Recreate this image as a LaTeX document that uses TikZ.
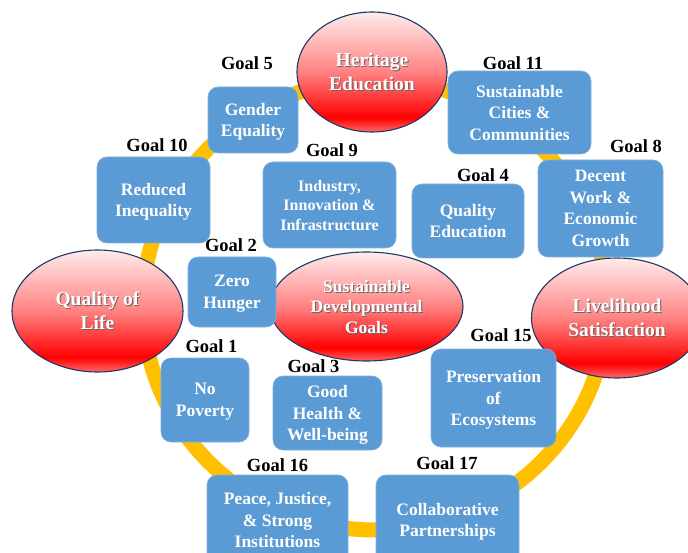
\documentclass[tikz,border=0pt]{standalone}
\usepackage{fontspec}
\setmainfont{Liberation Serif}
\usetikzlibrary{shapes.geometric}
\definecolor{boxblue}{HTML}{5B9BD5}
\definecolor{boxedge}{HTML}{80B1DF}
\definecolor{ringgold}{HTML}{FFC000}
\definecolor{elledge}{HTML}{1F3864}
\definecolor{redT}{RGB}{255,236,236}
\definecolor{redM}{RGB}{255,130,130}
\definecolor{redF}{RGB}{255,0,0}
\definecolor{redB}{RGB}{255,105,105}
\pgfdeclareverticalshading{ellred}{100bp}{color(0bp)=(redB); color(25bp)=(redB); color(31bp)=(redF); color(50bp)=(redM); color(75bp)=(redT); color(100bp)=(redT)}
\begin{document}
\begin{tikzpicture}[x=1pt,y=-1pt,
  goalbox/.style={draw=boxedge, line width=0.6pt, fill=boxblue, rounded corners=10pt,
    text=white, align=center, inner sep=0pt, text depth=0pt,
    font=\bfseries\fontsize{17.5}{21.5}\selectfont},
  goallabel/.style={inner sep=0pt, text=black, font=\bfseries\fontsize{18.5}{22}\selectfont},
  ellfont/.style={font=\bfseries\fontsize{19.5}{24}\selectfont},
  sdgfont/.style={font=\bfseries\fontsize{17.5}{20.5}\selectfont},
  theme/.style n args={2}{ellipse, draw=elledge, line width=1.1pt, shade, shading=ellred,
    inner sep=0pt, text=white, align=center, text depth=0pt, #1,
    path picture={\node[#1, text=black!60, align=center, inner sep=0pt, text depth=0pt]
      at ([shift={(1pt,-1pt)}]path picture bounding box.center) {#2};}}
]
\useasboundingbox (0,0) rectangle (688,553);
\fill[white] (0,0) rectangle (688,553);

% ring
\draw[ringgold, line width=15pt] (375,305) ellipse (232pt and 225pt);

% theme ellipses
\node[theme={ellfont}{Heritage\\Education}, minimum width=150pt, minimum height=120pt] (heritage) at (372,72) {Heritage\\Education};
\node[theme={ellfont}{Quality of\\Life}, minimum width=171pt, minimum height=122pt] (quality) at (97.5,311) {Quality of\\Life};
\node[theme={ellfont}{Livelihood\\Satisfaction}, minimum width=171pt, minimum height=120pt] (livelihood) at (617,318) {Livelihood\\Satisfaction};
\node[theme={sdgfont}{Sustainable\\Developmental\\Goals}, minimum width=193pt, minimum height=109pt] (sdg) at (366.5,306.5) {Sustainable\\Developmental\\Goals};

% goal boxes
\node[goalbox, minimum width=90pt, minimum height=66pt] (g5) at (253,120) {Gender\\Equality};
\node[goalbox, minimum width=113pt, minimum height=86pt] (g10) at (153.5,200) {Reduced\\Inequality};
\node[goalbox, minimum width=133pt, minimum height=86pt, font=\bfseries\fontsize{16}{19.5}\selectfont] (g9) at (329.5,205) {Industry,\\Innovation \&\\Infrastructure};
\node[goalbox, minimum width=88pt, minimum height=70pt] (g2) at (232,292) {Zero\\Hunger};
\node[goalbox, minimum width=143pt, minimum height=83pt] (g11) at (519.5,112.5) {Sustainable\\Cities \&\\Communities};
\node[goalbox, minimum width=125pt, minimum height=97pt] (g8) at (600.5,208.5) {Decent\\Work \&\\Economic\\Growth};
\node[goalbox, minimum width=112pt, minimum height=74pt] (g4) at (468,221) {Quality\\Education};
\node[goalbox, minimum width=88pt, minimum height=84pt] (g1) at (205,400) {No\\Poverty};
\node[goalbox, minimum width=109pt, minimum height=74pt] (g3) at (327.5,413) {Good\\Health \&\\Well-being};
\node[goalbox, minimum width=141pt, minimum height=90pt] (g16) at (277.5,520) {Peace, Justice,\\\& Strong\\Institutions};
\node[goalbox, minimum width=125pt, minimum height=98pt] (g15) at (493.5,398) {Preservation\\of\\Ecosystems};
\node[goalbox, minimum width=143pt, minimum height=90pt] (g17) at (447.5,520) {Collaborative\\Partnerships};

% goal labels
\node[goallabel] (l5) at (247,63) {Goal 5};
\node[goallabel] (l10) at (157,145) {Goal 10};
\node[goallabel] (l9) at (332,150) {Goal 9};
\node[goallabel] (l2) at (231,245) {Goal 2};
\node[goallabel] (l11) at (513,63) {Goal 11};
\node[goallabel] (l8) at (636,146.5) {Goal 8};
\node[goallabel] (l4) at (483,175.5) {Goal 4};
\node[goallabel] (l1) at (211.5,346.5) {Goal 1};
\node[goallabel] (l3) at (313.5,366.5) {Goal 3};
\node[goallabel] (l16) at (277.5,465.5) {Goal 16};
\node[goallabel] (l15) at (501,335) {Goal 15};
\node[goallabel] (l17) at (447,463.5) {Goal 17};
\end{tikzpicture}
\end{document}
